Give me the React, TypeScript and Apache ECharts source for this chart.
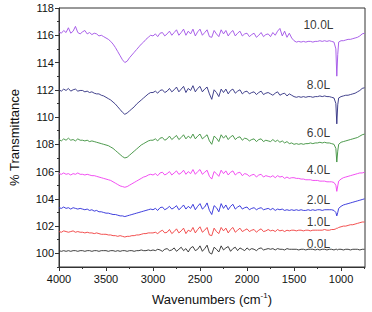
import React, { useEffect, useRef } from "react";
import * as echarts from "echarts";

const WAVENUMBERS = [
  4000, 3975, 3950, 3925, 3900, 3875, 3850, 3825, 3800, 3775,
  3750, 3725, 3700, 3675, 3650, 3625, 3600, 3575, 3550, 3525,
  3500, 3475, 3450, 3425, 3400, 3375, 3350, 3325, 3300, 3275,
  3250, 3225, 3200, 3175, 3150, 3125, 3100, 3075, 3050, 3025,
  3000, 2975, 2950, 2925, 2900, 2875, 2850, 2825, 2800, 2775,
  2750, 2725, 2700, 2675, 2650, 2625, 2600, 2575, 2550, 2525,
  2500, 2475, 2450, 2425, 2400, 2375, 2350, 2325, 2300, 2275,
  2250, 2225, 2200, 2175, 2150, 2125, 2100, 2075, 2050, 2025,
  2000, 1975, 1950, 1925, 1900, 1875, 1850, 1825, 1800, 1775,
  1750, 1725, 1700, 1675, 1650, 1625, 1600, 1575, 1550, 1525,
  1500, 1475, 1450, 1425, 1400, 1375, 1350, 1325, 1300, 1275,
  1250, 1225, 1200, 1175, 1150, 1125, 1100, 1075, 1055, 1045,
  1035, 1025, 1000, 975, 950, 925, 900, 875, 850, 825,
  800, 775, 750,
];

const S_0L = [
  100.2, 100.15, 100.2, 100.15, 100.2, 100.15, 100.2, 100.2, 100.15, 100.2,
  100.2, 100.15, 100.2, 100.2, 100.15, 100.2, 100.2, 100.15, 100.2, 100.2,
  100.2, 100.15, 100.2, 100.2, 100.15, 100.2, 100.15, 100.2, 100.2, 100.15,
  100.2, 100.2, 100.15, 100.2, 100.2, 100.25, 100.2, 100.2, 100.25, 100.2,
  100.25, 100.2, 100.3, 100.25, 100.15, 100.3, 100.35, 100.2, 100.25, 100.4,
  100.15, 100.3, 100.45, 100.2, 100.35, 100.1, 100.4, 100.5, 100.2, 100.3,
  100.55, 100.15, 100.35, 100.6, 100.05, 99.95, 100.45, 100.3, 100.1, 100.55,
  100.25, 100.4, 100.5, 100.15, 100.35, 100.45, 100.2, 100.4, 100.3, 100.2,
  100.4, 100.25, 100.35, 100.3, 100.2, 100.35, 100.4, 100.25, 100.3, 100.35,
  100.3, 100.35, 100.25, 100.35, 100.3, 100.3, 100.25, 100.35, 100.3, 100.3,
  100.3, 100.3, 100.25, 100.3, 100.3, 100.25, 100.3, 100.3, 100.3, 100.25,
  100.3, 100.25, 100.3, 100.3, 100.25, 100.3, 100.3, 100.25, 100.3, 100.3,
  100.25, 100.3, 100.3, 100.25, 100.3, 100.3, 100.25, 100.3, 100.3, 100.3,
  100.25, 100.3, 100.3,
];

const S_1L = [
  101.6, 101.55, 101.65, 101.6, 101.55, 101.6, 101.65, 101.55, 101.6, 101.55,
  101.55, 101.5, 101.55, 101.5, 101.5, 101.45, 101.5, 101.45, 101.4, 101.4,
  101.4, 101.35, 101.35, 101.3, 101.3, 101.25, 101.3, 101.25, 101.2, 101.25,
  101.25, 101.3, 101.3, 101.35, 101.35, 101.4, 101.45, 101.45, 101.5, 101.5,
  101.5, 101.55, 101.45, 101.6, 101.7, 101.5, 101.55, 101.75, 101.45, 101.6,
  101.8, 101.5, 101.65, 101.85, 101.45, 101.7, 101.6, 101.9, 101.5, 101.75,
  101.95, 101.55, 101.7, 101.9, 101.35, 101.3, 101.85, 101.6, 101.45, 101.9,
  101.65, 101.85, 101.5, 101.75, 101.9, 101.55, 101.7, 101.85, 101.6, 101.7,
  101.8, 101.6, 101.7, 101.75, 101.55, 101.7, 101.8, 101.6, 101.65, 101.75,
  101.65, 101.7, 101.6, 101.75, 101.65, 101.7, 101.6, 101.7, 101.65, 101.7,
  101.7, 101.65, 101.7, 101.7, 101.65, 101.7, 101.7, 101.65, 101.7, 101.7,
  101.7, 101.7, 101.7, 101.75, 101.7, 101.7, 101.75, 101.75, 101.8, 101.85,
  101.85, 101.9, 101.95, 102.0, 102.0, 102.05, 102.1, 102.1, 102.15, 102.2,
  102.25, 102.3, 102.3,
];

const S_2L = [
  103.35, 103.3, 103.4, 103.3, 103.35, 103.25, 103.35, 103.3, 103.25, 103.3,
  103.25, 103.2, 103.25, 103.15, 103.2, 103.1, 103.15, 103.05, 103.05, 103.0,
  102.95, 102.95, 102.9, 102.85, 102.85, 102.8, 102.75, 102.75, 102.7, 102.75,
  102.8, 102.85, 102.9, 102.95, 103.0, 103.05, 103.1, 103.15, 103.2, 103.25,
  103.2, 103.3, 103.15, 103.35, 103.4, 103.2, 103.3, 103.45, 103.25, 103.35,
  103.5, 103.2, 103.35, 103.55, 103.25, 103.45, 103.3, 103.6, 103.2, 103.45,
  103.65, 103.25, 103.4, 103.7, 103.15, 102.85, 103.5, 103.35, 103.05, 103.65,
  103.3, 103.55, 103.2, 103.45, 103.6, 103.25, 103.4, 103.5, 103.25, 103.35,
  103.4, 103.2, 103.3, 103.35, 103.2, 103.3, 103.35, 103.2, 103.25, 103.3,
  103.2, 103.3, 103.15, 103.25, 103.2, 103.25, 103.15, 103.2, 103.15, 103.2,
  103.15, 103.2, 103.15, 103.2, 103.15, 103.15, 103.2, 103.15, 103.2, 103.15,
  103.2, 103.2, 103.15, 103.2, 103.2, 103.2, 103.2, 103.15, 103.0, 102.75,
  103.0, 103.3, 103.45, 103.55, 103.6, 103.65, 103.7, 103.75, 103.8, 103.85,
  103.9, 103.95, 104.0,
];

const S_4L = [
  105.85, 105.8, 105.9, 105.8, 105.85, 105.75, 105.85, 105.8, 105.9, 105.8,
  105.8, 105.75, 105.8, 105.75, 105.7, 105.7, 105.65, 105.6, 105.55, 105.5,
  105.45, 105.4, 105.35, 105.25, 105.15, 105.05, 104.95, 104.9, 104.85, 104.9,
  105.0, 105.1, 105.2, 105.3, 105.4, 105.5, 105.6, 105.65, 105.75, 105.8,
  105.75, 105.85, 105.7, 105.9, 105.95, 105.75, 105.85, 106.0, 105.75, 105.9,
  106.05, 105.8, 105.9, 106.1, 105.8, 106.0, 105.85, 106.15, 105.8, 106.0,
  106.15, 105.8, 105.95, 106.1, 105.65, 105.45, 106.0, 105.85, 105.65, 106.1,
  105.85, 106.05, 105.75, 105.95, 106.05, 105.75, 105.9, 105.95, 105.7, 105.85,
  105.8, 105.65, 105.75, 105.8, 105.6, 105.75, 105.8, 105.6, 105.7, 105.65,
  105.6, 105.7, 105.55, 105.7, 105.6, 105.65, 105.5, 105.6, 105.5, 105.55,
  105.55, 105.5, 105.5, 105.45, 105.45, 105.4, 105.4, 105.4, 105.35, 105.35,
  105.35, 105.3, 105.3, 105.3, 105.25, 105.25, 105.25, 105.2, 105.0, 104.55,
  104.95, 105.3, 105.45, 105.55, 105.6, 105.65, 105.7, 105.75, 105.8, 105.85,
  105.9, 105.9, 105.95,
];

const S_6L = [
  108.35, 108.25, 108.4, 108.3, 108.45, 108.3, 108.35, 108.25, 108.4, 108.3,
  108.3, 108.25, 108.3, 108.2, 108.25, 108.2, 108.15, 108.1, 108.05, 108.0,
  107.95, 107.9, 107.8, 107.7, 107.55, 107.4, 107.25, 107.1, 107.0, 107.05,
  107.2, 107.35, 107.5, 107.65, 107.8, 107.95, 108.05, 108.15, 108.25, 108.3,
  108.3, 108.4, 108.25, 108.45, 108.5, 108.3, 108.4, 108.6, 108.35, 108.5,
  108.65, 108.35, 108.5, 108.7, 108.4, 108.6, 108.45, 108.75, 108.4, 108.6,
  108.75, 108.4, 108.55, 108.7, 108.25, 108.0, 108.6, 108.45, 108.2, 108.7,
  108.45, 108.65, 108.35, 108.55, 108.65, 108.35, 108.5, 108.55, 108.3, 108.45,
  108.4, 108.25, 108.35, 108.4, 108.2, 108.35, 108.4, 108.2, 108.3, 108.25,
  108.2, 108.35, 108.2, 108.3, 108.15, 108.25, 108.1, 108.2, 108.05, 108.1,
  108.0, 108.05, 108.0, 108.05, 108.0, 108.05, 108.05, 108.1, 108.05, 108.1,
  108.1, 108.15, 108.1, 108.15, 108.1, 108.1, 108.05, 108.0, 107.7, 106.7,
  107.5, 108.0, 108.15, 108.2, 108.25, 108.3, 108.35, 108.4, 108.45, 108.5,
  108.6, 108.7, 108.75,
];

const S_8L = [
  112.0, 111.9, 112.05, 111.95, 112.1, 111.9, 112.0, 112.05, 111.9, 111.95,
  111.95, 111.85, 111.9, 111.8, 111.85, 111.75, 111.7, 111.7, 111.6, 111.55,
  111.45, 111.35, 111.25, 111.1, 110.95, 110.75, 110.55, 110.35, 110.2, 110.3,
  110.45, 110.6, 110.75, 110.95, 111.1, 111.25, 111.4, 111.55, 111.7, 111.8,
  111.8, 111.9, 111.75, 111.95, 112.0, 111.8, 111.9, 112.1, 111.85, 112.0,
  112.2, 111.85, 112.05, 112.25, 111.8, 112.1, 111.95, 112.3, 111.85, 112.1,
  112.25, 111.85, 112.05, 112.2, 111.7, 111.3, 112.0, 111.8, 111.5, 112.05,
  111.8, 112.05, 111.7, 111.95, 112.05, 111.75, 111.9, 112.0, 111.7, 111.85,
  111.9, 111.7, 111.8, 111.85, 111.65, 111.8, 111.9, 111.65, 111.75, 111.8,
  111.7, 111.6, 111.75, 111.85, 111.6, 111.7, 111.75, 111.55, 111.7, 111.6,
  111.5, 111.45, 111.5, 111.45, 111.5, 111.45, 111.5, 111.5, 111.45, 111.5,
  111.5, 111.55, 111.5, 111.55, 111.5, 111.5, 111.45, 111.4, 111.0, 109.5,
  110.9, 111.4, 111.5, 111.55, 111.6, 111.6, 111.65, 111.7, 111.75, 111.85,
  111.95, 112.1, 112.15,
];

const S_10L = [
  116.25, 116.15, 116.35, 116.2, 116.55, 116.15, 116.3, 116.65, 116.2, 116.1,
  116.25, 116.35, 116.1, 116.2, 116.05, 116.15, 116.1, 115.95, 116.0, 115.9,
  115.8, 115.7, 115.55, 115.35, 115.1, 114.8, 114.5, 114.2, 114.0, 114.1,
  114.35, 114.55, 114.75, 114.95, 115.15, 115.35, 115.5, 115.7, 115.85, 116.0,
  115.95, 116.1, 115.9, 116.15, 116.2, 115.95, 116.1, 116.3, 116.0, 116.2,
  116.4, 116.0, 116.2, 116.45, 116.0, 116.3, 116.1, 116.45, 115.95, 116.25,
  116.45, 116.0, 116.2, 116.4, 115.9, 115.85, 116.35, 116.1, 115.9, 116.4,
  116.1, 116.35, 115.95, 116.2, 116.35, 115.95, 116.15, 116.3, 115.95, 116.1,
  116.15, 115.9, 116.05, 116.15, 115.85, 116.0, 116.2, 115.9, 116.05, 116.1,
  115.9, 116.2, 116.0, 116.3, 116.5, 115.95, 116.3, 115.85, 116.15, 115.8,
  115.6, 115.5, 115.55, 115.5, 115.55, 115.5, 115.55, 115.55, 115.5, 115.55,
  115.55, 115.6, 115.55, 115.6, 115.55, 115.6, 115.55, 115.5, 115.0, 113.0,
  114.6, 115.5, 115.6, 115.6, 115.65, 115.7, 115.7, 115.75, 115.8, 115.85,
  115.95, 116.1, 116.15,
];

const SERIES_NAMES = ["0.0L", "1.0L", "2.0L", "4.0L", "6.0L", "8.0L", "10.0L"];
const SERIES_VALUES = [S_0L, S_1L, S_2L, S_4L, S_6L, S_8L, S_10L];
const SERIES_COLORS = ["#2b2b2b", "#f03c3c", "#2b2bd9", "#f03cf0", "#3a8f3a", "#2e2e80", "#a050e6"];

const LABEL_X = [1240, 1240, 1240, 1240, 1240, 1240, 1240];
const LABEL_Y = [100.7, 102.3, 103.95, 106.15, 108.8, 112.33, 116.75];

const X_MAJOR = [4000, 3500, 3000, 2500, 2000, 1500, 1000];
const X_MINOR = [3750, 3250, 2750, 2250, 1750, 1250, 750];
const Y_MAJOR = [100, 102, 104, 106, 108, 110, 112, 114, 116, 118];
const Y_MINOR = [99, 101, 103, 105, 107, 109, 111, 113, 115, 117];

const FONT = "'Liberation Sans', Arial, sans-serif";
const AX = "#333";

export default function App() {
  const ref = useRef<HTMLDivElement>(null);
  useEffect(() => {
    if (!ref.current) return;
    const chart = echarts.init(ref.current, undefined, { renderer: "svg" });
    const lineSeries = SERIES_VALUES.map((vals, k) => ({
      type: "line",
      name: SERIES_NAMES[k],
      data: WAVENUMBERS.map((x, i) => [x, vals[i]]),
      showSymbol: false,
      symbol: "none",
      lineStyle: { color: SERIES_COLORS[k], width: 0.9 },
      itemStyle: { color: SERIES_COLORS[k] },
      silent: true,
      z: 3,
    }));
    const labelSeries = {
      type: "scatter",
      data: SERIES_NAMES.map((n, k) => [LABEL_X[k], LABEL_Y[k], n]),
      symbolSize: 0.1,
      itemStyle: { color: "#ffffff" },
      silent: true,
      label: {
        show: true,
        position: "inside",
        formatter: (p: any) => p.data[2],
        color: "#000",
        textBorderWidth: 0,
        fontSize: 12,
        fontFamily: FONT,
      },
      z: 4,
    };
    const fmt = (v: number) => String(v);
    chart.setOption({
      animation: false,
      backgroundColor: "#fff",
      textStyle: { fontFamily: FONT },
      grid: {
        left: 47.5,
        right: 7,
        top: 8,
        bottom: 45,
        show: true,
        borderColor: AX,
        borderWidth: 1,
        backgroundColor: "transparent",
      },
      xAxis: [
        {
          type: "value",
          min: 745,
          max: 4000,
          inverse: true,
          axisLine: { show: true, onZero: false, lineStyle: { color: AX, width: 1 } },
          axisTick: { show: true, inside: false, length: 4, customValues: X_MAJOR, lineStyle: { color: AX } },
          axisLabel: { customValues: X_MAJOR, formatter: fmt, fontSize: 11, color: "#111", margin: 6, fontFamily: FONT },
          splitLine: { show: false },
          name: "{a|Wavenumbers (cm}{s|-1}{a|)}",
          nameLocation: "middle",
          nameGap: 24,
          nameTextStyle: {
            rich: {
              a: { fontSize: 13, color: "#111", fontFamily: FONT, lineHeight: 16 },
              s: { fontSize: 8, color: "#111", fontFamily: FONT, lineHeight: 8, verticalAlign: "top" },
            },
          },
        },
        {
          type: "value",
          min: 745,
          max: 4000,
          inverse: true,
          position: "bottom",
          axisLine: { show: false, onZero: false },
          axisTick: { show: true, length: 2, customValues: X_MINOR, lineStyle: { color: AX } },
          axisLabel: { show: false },
          splitLine: { show: false },
        },
      ],
      yAxis: [
        {
          type: "value",
          min: 99,
          max: 118,
          axisLine: { show: true, onZero: false, lineStyle: { color: AX, width: 1 } },
          axisTick: { show: true, inside: false, length: 4, customValues: Y_MAJOR, lineStyle: { color: AX } },
          axisLabel: { customValues: Y_MAJOR, formatter: fmt, fontSize: 11, color: "#111", margin: 5, fontFamily: FONT },
          splitLine: { show: false },
          name: "% Transmittance",
          nameLocation: "middle",
          nameGap: 38,
          nameRotate: 90,
          nameTextStyle: { fontSize: 13, color: "#111", fontFamily: FONT },
        },
        {
          type: "value",
          min: 99,
          max: 118,
          position: "left",
          axisLine: { show: false, onZero: false },
          axisTick: { show: true, length: 2, customValues: Y_MINOR, lineStyle: { color: AX } },
          axisLabel: { show: false },
          splitLine: { show: false },
        },
      ],
      series: [...lineSeries, labelSeries],
    });
    return () => chart.dispose();
  }, []);
  return (
    <div
      ref={ref}
      style={{ position: "fixed", left: 0, top: 0, width: 372, height: 312, background: "#fff" }}
    />
  );
}
